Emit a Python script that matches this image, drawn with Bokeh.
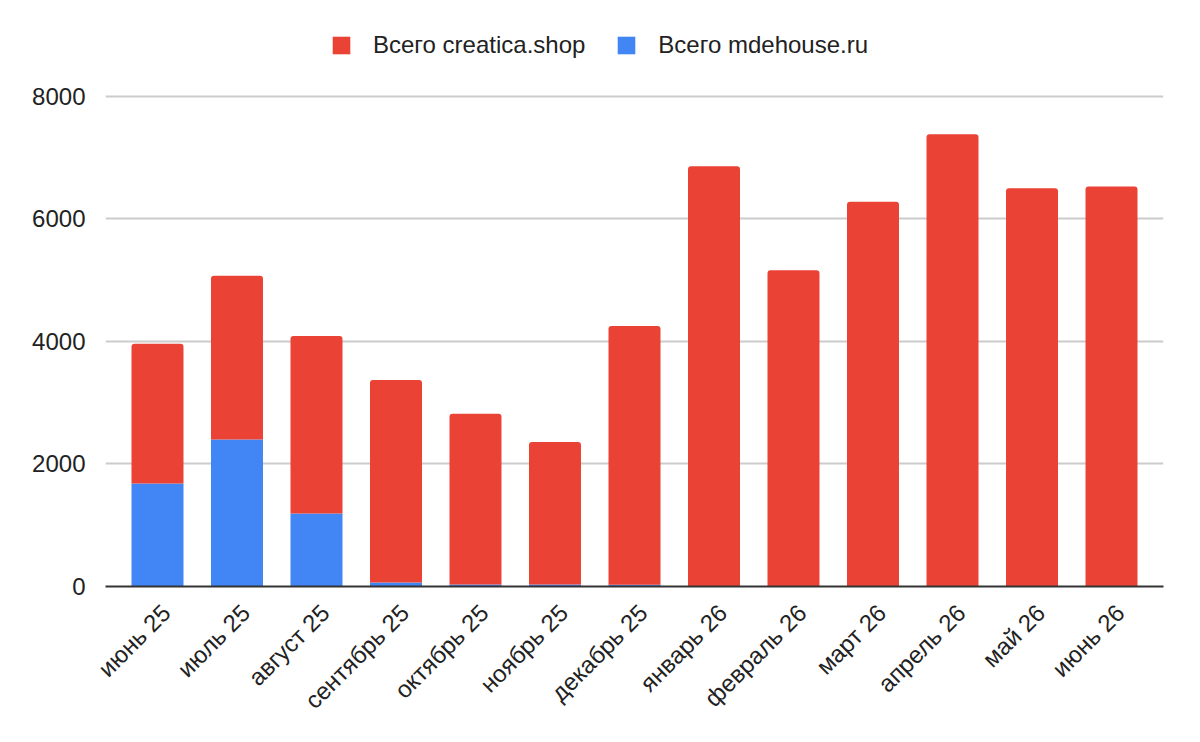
from bokeh.plotting import figure
from bokeh.models import Range1d, FixedTicker, Legend, LegendItem
from bokeh.embed import file_html
from bokeh.resources import INLINE
import math

months = ["июнь 25", "июль 25", "август 25", "сентябрь 25", "октябрь 25", "ноябрь 25",
          "декабрь 25", "январь 26", "февраль 26", "март 26", "апрель 26", "май 26", "июнь 26"]
mdehouse = [1680, 2400, 1190, 65, 33, 33, 30, 0, 0, 0, 0, 0, 0]
totals = [3960, 5070, 4090, 3370, 2820, 2360, 4250, 6860, 5160, 6280, 7380, 6500, 6530]
creatica = [t - m for t, m in zip(totals, mdehouse)]
y_ticks = [0, 2000, 4000, 6000, 8000]

RED = "#EA4335"
BLUE = "#4285F4"
FONT = "Liberation Sans"

xs = list(range(len(months)))
source = dict(x=xs, mdehouse=mdehouse, creatica=creatica)

# frame: 1058 x 579 px; 8000 sits 491 px above the baseline, the rest holds the legend
y_top = 8000 * 579 / 491

p = figure(width=1184, height=726, output_backend="svg", toolbar_location=None,
           x_range=Range1d(-0.654, len(months) - 1 + 0.654), y_range=Range1d(0, y_top),
           min_border_left=105, min_border_right=21, min_border_top=8, min_border_bottom=139)
p.outline_line_color = None

rs = p.vbar_stack(["mdehouse", "creatica"], x="x", width=0.654, source=source,
                  color=[BLUE, RED], line_color=None)
rs[1].glyph.border_radius = [3, 3, 0, 0]

# rotated labels sit slightly right of the bar centre, as in the original
label_shift = 0.11
tick_pos = [x + label_shift for x in xs]
p.xaxis.ticker = FixedTicker(ticks=tick_pos)
p.xaxis.major_label_overrides = {t: m for t, m in zip(tick_pos, months)}
p.xaxis.major_label_orientation = math.pi / 4
p.xaxis.major_tick_line_color = None
p.xaxis.minor_tick_line_color = None
p.xaxis.axis_line_color = "#333333"
p.xaxis.axis_line_width = 2
p.xaxis.major_label_text_font = FONT
p.xaxis.major_label_text_font_size = "24px"
p.xaxis.major_label_text_color = "#222222"
p.xaxis.major_label_standoff = 16

p.yaxis.ticker = FixedTicker(ticks=y_ticks)
p.yaxis.axis_line_color = None
p.yaxis.major_tick_line_color = None
p.yaxis.minor_tick_line_color = None
p.yaxis.major_label_text_font = FONT
p.yaxis.major_label_text_font_size = "24px"
p.yaxis.major_label_text_color = "#222222"
p.yaxis.major_label_standoff = 14

p.xgrid.grid_line_color = None
p.ygrid.grid_line_color = "#CCCCCC"
p.ygrid.grid_line_width = 2
p.ygrid.ticker = FixedTicker(ticks=y_ticks[1:])

legend = Legend(items=[LegendItem(label="Всего creatica.shop", renderers=[rs[1]]),
                       LegendItem(label="Всего mdehouse.ru", renderers=[rs[0]])],
                orientation="horizontal", location=(225, 527),
                label_text_font=FONT, label_text_font_size="24px", label_text_color="#222222",
                glyph_width=22, glyph_height=22, spacing=30, label_standoff=21,
                border_line_color=None, background_fill_alpha=0, margin=0, padding=0)
p.add_layout(legend, "center")

open("out.html", "w").write(file_html(p, INLINE))
